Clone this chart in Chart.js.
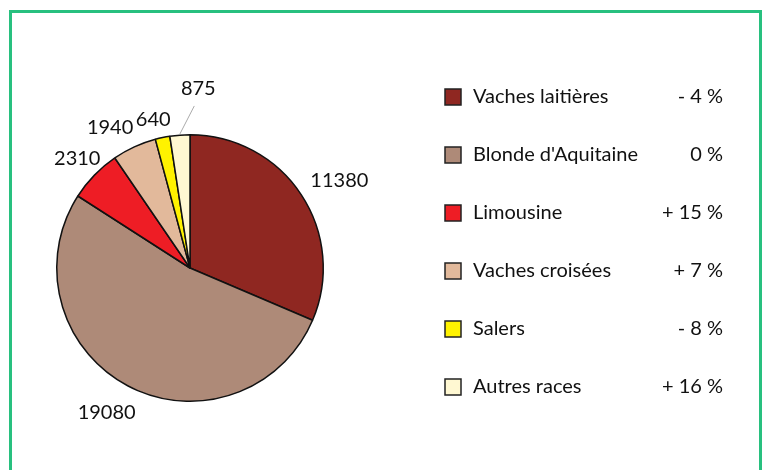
<!DOCTYPE html>
<html>
<head>
<meta charset="utf-8">
<script src="https://cdn.jsdelivr.net/npm/chart.js@4"></script>
<style>
  html, body { margin: 0; padding: 0; background: #fff; }
  .wrap { position: relative; width: 769px; height: 470px; overflow: hidden; }
  .frame {
    position: absolute; left: 9px; top: 10px; width: 753px; height: 470px;
    border: 3px solid #28c07f; border-bottom: none; box-sizing: border-box;
  }
  canvas { position: absolute; left: 0; top: 0; }
</style>
</head>
<body>
<div class="wrap">
  <div class="frame"></div>
  <canvas id="pie" width="769" height="470"></canvas>
</div>
<script>
// ── Données ──
const BREEDS = ['Vaches laitières', "Blonde d'Aquitaine", 'Limousine', 'Vaches croisées', 'Salers', 'Autres races'];
const HEADS  = [11380, 19080, 2310, 1940, 640, 875];
const TRENDS = ['- 4 %', '0 %', '+ 15 %', '+ 7 %', '- 8 %', '+ 16 %'];
const COLORS = ['#8f2721', '#ae8a78', '#ee1d25', '#e2b99b', '#fff200', '#fff8d2'];

const FONT = '20px "Gill Sans", Lato, sans-serif';

// petits décalages d'étiquettes (rayon en px, angle en degrés)
const LABEL_TWEAK = [[8, 3], [2, 2], [-8, 0], [-4, -5], [-12, -2], [14, 7]];

// ── Étiquettes de valeur autour du camembert ──
const valueLabels = {
  id: 'valueLabels',
  afterDatasetsDraw(chart) {
    const ctx = chart.ctx;
    const meta = chart.getDatasetMeta(0);
    ctx.save();
    ctx.font = FONT;
    ctx.fillStyle = '#111';
    ctx.textAlign = 'center';
    ctx.textBaseline = 'middle';
    meta.data.forEach((arc, i) => {
      const tw = LABEL_TWEAK[i] || [0, 0];
      const mid = (arc.startAngle + arc.endAngle) / 2;
      const a = mid + tw[1] * Math.PI / 180;
      const r = arc.outerRadius + 32 + tw[0];
      const x = arc.x + Math.cos(a) * r;
      const y = arc.y + Math.sin(a) * r;
      ctx.fillText(HEADS[i], x, y);
      if (i === HEADS.length - 1) {
        // trait de rappel pour la petite part
        ctx.strokeStyle = '#aaa';
        ctx.lineWidth = 1;
        ctx.beginPath();
        ctx.moveTo(arc.x + Math.cos(mid) * (arc.outerRadius + 1), arc.y + Math.sin(mid) * (arc.outerRadius + 1));
        ctx.lineTo(x - 4, y + 17);
        ctx.stroke();
      }
    });
    ctx.restore();
  }
};

// ── Légende à droite avec les évolutions ──
const sideLegend = {
  id: 'sideLegend',
  afterDraw(chart) {
    const ctx = chart.ctx;
    const x0 = 445, y0 = 97, step = 58, box = 16, right = 723;
    ctx.save();
    ctx.font = FONT;
    ctx.textBaseline = 'middle';
    BREEDS.forEach((name, i) => {
      const y = y0 + i * step;
      ctx.fillStyle = COLORS[i];
      ctx.fillRect(x0, y - box / 2, box, box);
      ctx.strokeStyle = '#222';
      ctx.lineWidth = 1.5;
      ctx.strokeRect(x0, y - box / 2, box, box);
      ctx.fillStyle = '#111';
      ctx.textAlign = 'left';
      ctx.fillText(name, 473, y);
      ctx.textAlign = 'right';
      ctx.fillText(TRENDS[i], right, y);
    });
    ctx.restore();
  }
};

new Chart(document.getElementById('pie'), {
  type: 'pie',
  data: {
    labels: BREEDS,
    datasets: [{
      data: HEADS,
      backgroundColor: COLORS,
      borderColor: '#111',
      borderWidth: 1.5,
    }]
  },
  options: {
    responsive: false,
    animation: false,
    layout: { padding: { left: 56, right: 445, top: 134, bottom: 68 } },
    plugins: {
      legend: { display: false },
      tooltip: { enabled: false },
    }
  },
  plugins: [valueLabels, sideLegend]
});
</script>
</body>
</html>
